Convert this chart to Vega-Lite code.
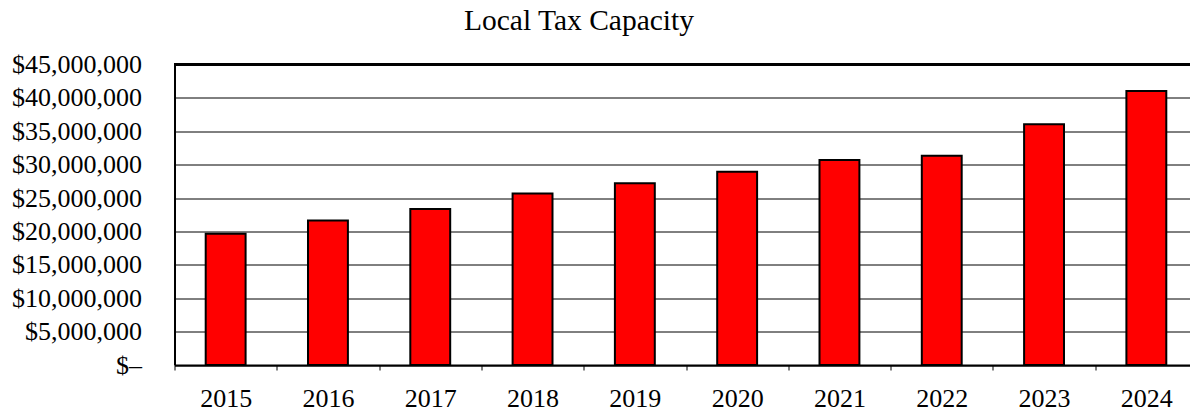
{
  "$schema": "https://vega.github.io/schema/vega-lite/v6.json",
  "width": 1016,
  "height": 300.5,
  "autosize": {"type": "none"},
  "padding": {"left": 174.5, "top": 64.5, "right": 0, "bottom": 46},
  "background": "white",
  "config": {
    "view": {"stroke": null},
    "font": "Liberation Serif",
    "axisY": {
      "title": null,
      "values": [0, 5000000, 10000000, 15000000, 20000000, 25000000, 30000000, 35000000, 40000000, 45000000],
      "labelExpr": "datum.value == 0 ? '$–' : '$' + format(datum.value, ',')",
      "labelFont": "Liberation Serif",
      "labelFontSize": 26,
      "labelColor": "black",
      "labelPadding": 33,
      "labelOverlap": false,
      "labelBound": false,
      "labelFlush": false,
      "ticks": false,
      "domainColor": "black",
      "domainWidth": 2,
      "grid": true,
      "gridColor": "black",
      "gridWidth": 1,
      "gridOpacity": 1
    }
  },
  "title": {
    "text": "Local Tax Capacity",
    "font": "Liberation Serif",
    "fontSize": 29.5,
    "fontWeight": "normal",
    "color": "black",
    "anchor": "middle",
    "baseline": "alphabetic",
    "offset": -7.5,
    "dx": -103.5
  },
  "data": {
    "values": [
      {"year": "2015", "value": 19650000},
      {"year": "2016", "value": 21650000},
      {"year": "2017", "value": 23350000},
      {"year": "2018", "value": 25700000},
      {"year": "2019", "value": 27200000},
      {"year": "2020", "value": 28950000},
      {"year": "2021", "value": 30700000},
      {"year": "2022", "value": 31350000},
      {"year": "2023", "value": 36050000},
      {"year": "2024", "value": 41050000}
    ]
  },
  "layer": [
    {
      "mark": {"type": "bar", "color": "#FF0000", "stroke": "black", "strokeWidth": 2, "width": {"band": 0.39}},
      "encoding": {
        "x": {
          "field": "year",
          "type": "ordinal",
          "scale": {"paddingInner": 0, "paddingOuter": 0, "range": [0, 1023]},
          "axis": {
            "title": null,
            "labelAngle": 0,
            "labelFont": "Liberation Serif",
            "labelFontSize": 26,
            "labelColor": "black",
            "labelBaseline": "top",
            "labelPadding": 15,
            "tickBand": "extent",
            "tickSize": 5,
            "tickColor": "black",
            "tickWidth": 1,
            "domainColor": "black",
            "domainWidth": 2,
            "grid": false
          }
        },
        "y": {
          "field": "value",
          "type": "quantitative",
          "scale": {"domain": [0, 45000000], "nice": false},
          "axis": {
            "title": null,
            "values": [0, 5000000, 10000000, 15000000, 20000000, 25000000, 30000000, 35000000, 40000000, 45000000]
          }
        }
      }
    },
    {
      "mark": {"type": "rule", "color": "black", "strokeWidth": 2.5},
      "encoding": {"y": {"datum": 45000000, "axis": {"title": null, "values": [0, 5000000, 10000000, 15000000, 20000000, 25000000, 30000000, 35000000, 40000000, 45000000]}}}
    }
  ]
}
